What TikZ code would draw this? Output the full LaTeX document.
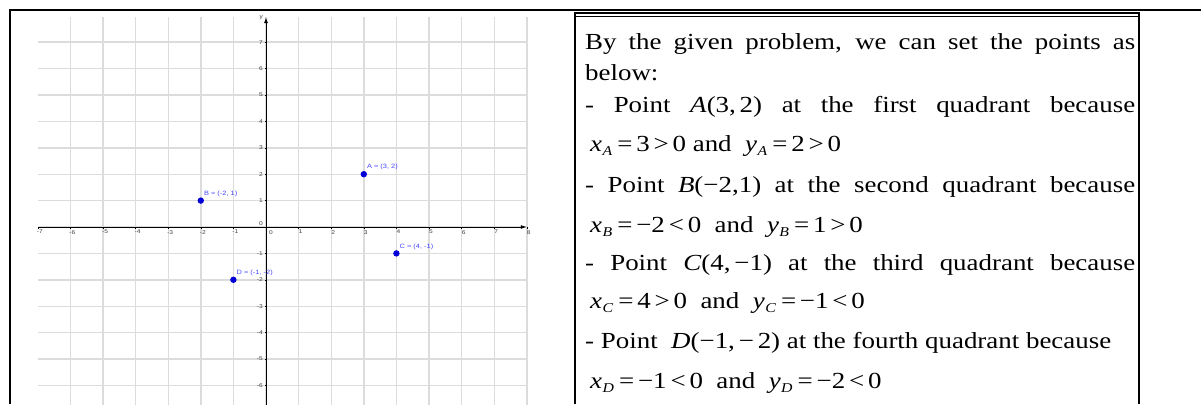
\documentclass[tikz,border=0pt]{standalone}
\usepackage{fontspec}
\setmainfont[FakeStretch=1.17]{Liberation Serif}
\newfontfamily\ggbfont[FakeStretch=1.2]{Liberation Sans}
\usepackage{xcolor}
\usetikzlibrary{arrows.meta, positioning, calc}

\definecolor{gridgray}{RGB}{220,220,220}
\definecolor{ptblue}{RGB}{0,0,215}
\definecolor{lblblue}{RGB}{70,70,255}

% italic letter with italic subscript, as in the worked answer
\newcommand{\sub}[2]{\textit{#1}\raisebox{-0.45ex}{\fontsize{13.5}{13.5}\selectfont\kern0.5pt\textit{#2}}\hspace{5pt}}

\begin{document}
\begin{tikzpicture}[x=1pt,y=-1pt,
    gridline/.style={gridgray,line width=1.4pt},
    axis/.style={black,line width=1pt,-{Latex[length=6pt,width=4pt]}},
    ticklbl/.style={inner sep=0pt,font=\ggbfont\fontsize{5.5}{5.5}\selectfont,black!75},
    ptdot/.style={circle,fill=ptblue,inner sep=0pt,minimum size=6.4pt},
    ptlbl/.style={anchor=west,inner sep=0pt,font=\ggbfont\fontsize{6.2}{6.2}\selectfont,lblblue},
    line/.style={anchor=base west,inner sep=0pt,font=\fontsize{23}{27}\selectfont}]
    \def\tw{550pt}
    \useasboundingbox (0,0) rectangle (1201,404);

    % outer table
    \draw[line width=2pt] (10,404) -- (10,10) -- (1201,10);

    % coordinate plane
    \begin{scope}[shift={(266,227)},x=32.6pt,y=26.4pt]
      \clip (-7.2,-6.71) rectangle (8.4,8.5);
      \foreach \i in {-6,...,8}
        \draw[gridline] (\i,-7) -- (\i,7.95);
      \foreach \j in {-6,...,7}
        \draw[gridline] (-7,\j) -- (8,\j);

      \draw[axis] (-7,0) -- (8,0);
      \draw[axis] (0,-7) -- (0,7.95);
      \node[ticklbl,anchor=east] (ylbl) at ([xshift=-3pt]0,7.95) {y};

      \foreach \i in {-7,...,-1,1,2,...,8} {
        \draw[black,line width=0.5pt] (\i,0) -- ++(0,-1.5pt);
        \node[ticklbl,anchor=north] (xt\i) at ([xshift=2pt,yshift=-3pt]\i,0) {\i};
      }
      \node[ticklbl,anchor=north west] (xt0) at ([xshift=3pt,yshift=-3pt]0,0) {0};
      \foreach \j in {-6,...,-1,1,2,...,7} {
        \draw[black,line width=0.5pt] (0,\j) -- ++(-1.5pt,0);
        \node[ticklbl,anchor=east] (yt\j) at ([xshift=-3pt]0,\j) {\j};
      }
      \node[ticklbl,anchor=south east] (yt0) at ([xshift=-3pt,yshift=1pt]0,0) {0};

      \node[ptdot] (A) at (3,2) {};
      \node[ptdot] (B) at (-2,1) {};
      \node[ptdot] (C) at (4,-1) {};
      \node[ptdot] (D) at (-1,-2) {};
      \node[ptlbl] (Alab) at ([shift={(3pt,7pt)}]A.center) {A = (3, 2)};
      \node[ptlbl] (Blab) at ([shift={(3pt,7pt)}]B.center) {B = (-2, 1)};
      \node[ptlbl] (Clab) at ([shift={(3pt,7pt)}]C.center) {C = (4, -1)};
      \node[ptlbl] (Dlab) at ([shift={(3pt,7pt)}]D.center) {D = (-1, -2)};
    \end{scope}

    % answer box
    \draw[line width=2pt] (575,404) -- (575,13) ;
    \draw[line width=1.6pt] (574,13) -- (1140,13);
    \draw[line width=0.7pt] (575,16.3) -- (1139,16.3);
    \draw[line width=2pt] (1139,12.5) -- (1139,404);

    \node[line] (l1) at (585,49) {\makebox[\tw][s]{By the given problem, we can set the points as}};
    \node[line] (l2) at (585,81) {below:};
    \node[line] (l3) at (585,112) {\makebox[\tw][s]{- Point \textit{A}(3,\,2) at the first quadrant because}};
    \node[line] (l4) at (590,151) {\sub{x}{A}=\,3\,>\,0 and \ \sub{y}{A}=\,2\,>\,0};
    \node[line] (l5) at (585,192) {\makebox[\tw][s]{- Point \textit{B}(−2,1) at the second quadrant because}};
    \node[line] (l6) at (590,232) {\sub{x}{B}=\,−2\,<\,0 \ and \ \sub{y}{B}=\,1\,>\,0};
    \node[line] (l7) at (585,270) {\makebox[\tw][s]{- Point \textit{C}(4,\,−1) at the third quadrant because}};
    \node[line] (l8) at (590,308) {\sub{x}{C}=\,4\,>\,0 \ and \ \sub{y}{C}=\,−1\,<\,0};
    \node[line] (l9) at (585,348) {- Point \ \textit{D}(−1,\,−\,2) at the fourth quadrant because};
    \node[line] (l10) at (590,388) {\sub{x}{D}=\,−1\,<\,0 \ and \ \sub{y}{D}=\,−2\,<\,0};
  \end{tikzpicture}
\end{document}
